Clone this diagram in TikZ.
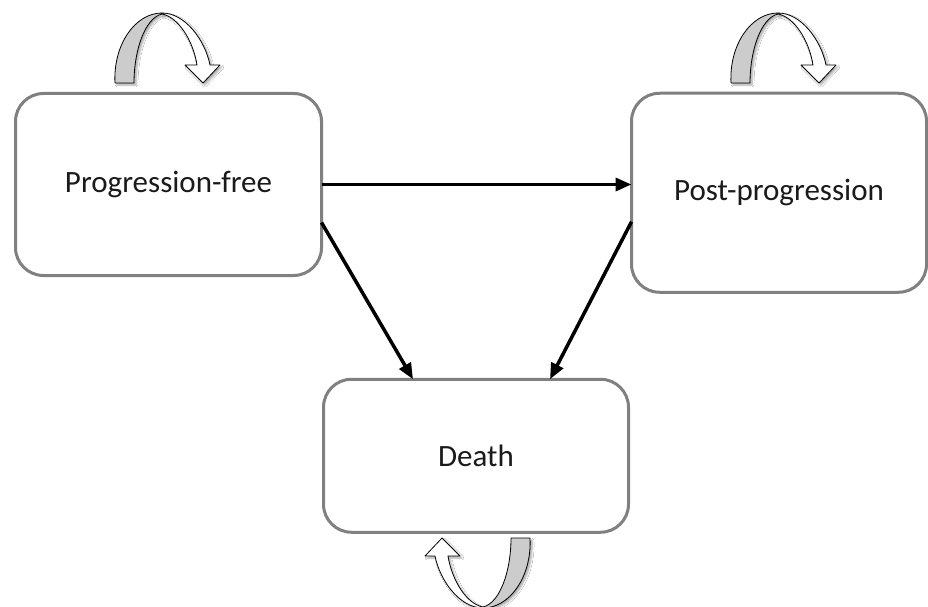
\documentclass[tikz,border=0pt]{standalone}
\usepackage{fontspec}
\setmainfont{Carlito}
\usetikzlibrary{arrows.meta,shadows.blur,calc}
\definecolor{boxgray}{RGB}{128,128,128}
\definecolor{legfill}{RGB}{204,204,204}
\definecolor{txtcol}{RGB}{26,26,26}
\tikzset{
  statebox/.style={draw=boxgray, line width=3pt, rounded corners=28pt, fill=white,
    inner sep=0pt, outer sep=0pt, text=txtcol,
    font=\fontsize{31}{37}\selectfont},
  conn/.style={line width=3.5pt, draw=black,
    -{Triangle[length=16pt,width=13pt]}},
  loopshade/.style={blur shadow={shadow xshift=2pt, shadow yshift=-2pt,
    shadow blur steps=6, shadow opacity=35}},
  loopArrow/.pic={
    \path[fill=white, draw=black, line width=0.8pt, line join=round, loopshade]
      (0,0) .. controls (23,0) and (43,27) .. (48,52) -- (58,52) -- (41,70)
      -- (23,52) -- (35,52) .. controls (31,27) and (16,4) .. (0,1) -- cycle;
    \path[fill=legfill, draw=black, line width=0.8pt, line join=round, loopshade]
      (-47,70) .. controls (-49,32) and (-27,0) .. (0,0)
      -- (0,1) .. controls (-17,5) and (-28,37) .. (-28,70) -- cycle;
  }
}
\begin{document}
\begin{tikzpicture}[x=1pt,y=-1pt]
\useasboundingbox (0,0) rectangle (928,607);
\fill[white] (0,0) rectangle (928,607);

\node[statebox, minimum width=306pt, minimum height=182pt] (pf) at (168.5,184.5) {Progression-free};
\node[statebox, minimum width=295pt, minimum height=199pt] (pp) at (779,192.75) {Post-progression};
\node[statebox, minimum width=305pt, minimum height=153pt] (dt) at (476,455.75) {Death};

\draw[conn] (pf.east) -- (pf.east -| pp.west);
\draw[conn] ([yshift=-38pt]pf.east) -- ([xshift=-63pt]dt.north);
\draw[conn] ([yshift=-29pt]pp.west) -- ([xshift=74pt]dt.north);

\pic at (162,13) {loopArrow};
\pic at (778,13) {loopArrow};
\pic[rotate=180] at (483,608) {loopArrow};
\end{tikzpicture}
\end{document}
